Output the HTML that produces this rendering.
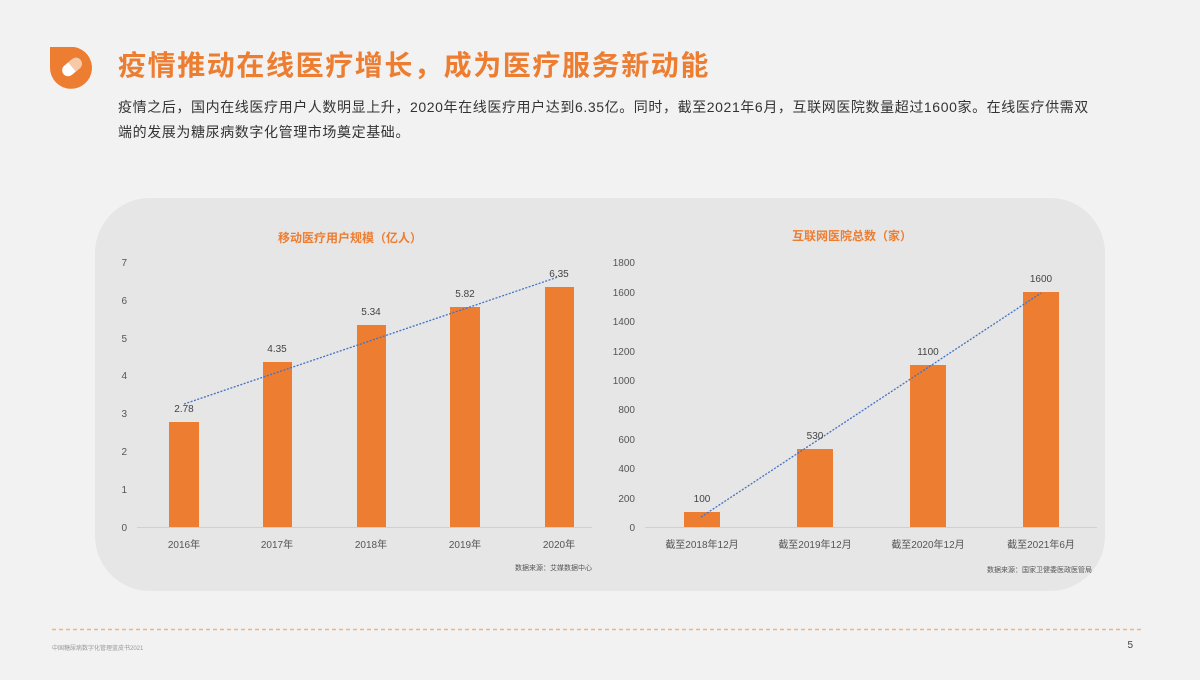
<!DOCTYPE html>
<html><head><meta charset="utf-8"><style>
body{margin:0;width:1200px;height:675px;background:#f2f2f2;overflow:hidden;font-family:"Liberation Sans","Noto Sans CJK SC",sans-serif;}
</style></head><body>
<svg width="1200" height="675" viewBox="0 0 1200 675" xmlns="http://www.w3.org/2000/svg" font-family="Liberation Sans, Noto Sans CJK SC, sans-serif">
<rect width="1200" height="675" fill="#f2f2f2"/>
<path d="M50 47 H74 A21 21 0 1 1 50 68 Z" fill="#ec7d31"/>
<g transform="translate(72,67) rotate(-40)"><rect x="-11" y="-6" width="22" height="12" rx="6" fill="#fff"/><path d="M5 -6 A6 6 0 0 1 5 6 H0 V-6 Z" fill="#f6c9a8"/></g>
<text x="118" y="75" font-size="28" font-weight="bold" fill="#ec7d31" letter-spacing="1.6">疫情推动在线医疗增长，成为医疗服务新动能</text>
<text x="118" y="112" font-size="14" fill="#333" letter-spacing="0.6">疫情之后，国内在线医疗用户人数明显上升，2020年在线医疗用户达到6.35亿。同时，截至2021年6月，互联网医院数量超过1600家。在线医疗供需双</text>
<text x="118" y="137" font-size="14" fill="#333" letter-spacing="0.6">端的发展为糖尿病数字化管理市场奠定基础。</text>
<rect x="95" y="198" width="1010" height="393" rx="55" fill="#e6e6e6"/>
<text x="350" y="242" font-size="12" font-weight="bold" fill="#ec7d31" text-anchor="middle">移动医疗用户规模（亿人）</text>
<g font-size="10" fill="#555" text-anchor="end">
<text x="127" y="531">0</text><text x="127" y="493">1</text><text x="127" y="455">2</text><text x="127" y="417">3</text><text x="127" y="379">4</text><text x="127" y="342">5</text><text x="127" y="304">6</text><text x="127" y="266">7</text></g>
<line x1="137" y1="527.5" x2="592" y2="527.5" stroke="#d0d0d0"/>
<g fill="#ec7d31">
<rect x="169" y="422" width="30" height="105"/><rect x="263" y="362" width="29" height="165"/><rect x="357" y="325" width="29" height="202"/><rect x="450" y="307" width="30" height="220"/><rect x="545" y="287" width="29" height="240"/></g>
<line x1="184" y1="404" x2="558" y2="277" stroke="#4472c4" stroke-width="1.3" stroke-dasharray="2,1.5"/>
<g font-size="10" fill="#444" text-anchor="middle">
<text x="184" y="412">2.78</text><text x="277" y="352">4.35</text><text x="371" y="315">5.34</text><text x="465" y="297">5.82</text><text x="559" y="277">6.35</text>
<text x="184" y="548" fill="#555">2016年</text><text x="277" y="548" fill="#555">2017年</text><text x="371" y="548" fill="#555">2018年</text><text x="465" y="548" fill="#555">2019年</text><text x="559" y="548" fill="#555">2020年</text></g>
<text x="592" y="570" font-size="7" fill="#555" text-anchor="end">数据来源：艾媒数据中心</text>
<text x="852" y="240" font-size="12" font-weight="bold" fill="#ec7d31" text-anchor="middle">互联网医院总数（家）</text>
<g font-size="10" fill="#555" text-anchor="end">
<text x="635" y="531">0</text><text x="635" y="502">200</text><text x="635" y="472">400</text><text x="635" y="443">600</text><text x="635" y="413">800</text><text x="635" y="384">1000</text><text x="635" y="355">1200</text><text x="635" y="325">1400</text><text x="635" y="296">1600</text><text x="635" y="266">1800</text></g>
<line x1="645" y1="527.5" x2="1097" y2="527.5" stroke="#d0d0d0"/>
<g fill="#ec7d31">
<rect x="684" y="512" width="36" height="15"/><rect x="797" y="449" width="36" height="78"/><rect x="910" y="365" width="36" height="162"/><rect x="1023" y="292" width="36" height="235"/></g>
<line x1="701" y1="517" x2="1041" y2="293" stroke="#4472c4" stroke-width="1.3" stroke-dasharray="2,1.5"/>
<g font-size="10" fill="#444" text-anchor="middle">
<text x="702" y="502">100</text><text x="815" y="439">530</text><text x="928" y="355">1100</text><text x="1041" y="282">1600</text></g>
<g font-size="10" fill="#555" text-anchor="middle">
<text x="702" y="548">截至2018年12月</text><text x="815" y="548">截至2019年12月</text><text x="928" y="548">截至2020年12月</text><text x="1041" y="548">截至2021年6月</text></g>
<text x="1092" y="572" font-size="7" fill="#555" text-anchor="end">数据来源：国家卫健委医政医管局</text>
<line x1="52" y1="629.5" x2="1143" y2="629.5" stroke="#f4b183" stroke-width="1.5" stroke-dasharray="4,3"/>
<text x="52" y="650" font-size="6" fill="#999">中国糖尿病数字化管理蓝皮书2021</text>
<text x="1133" y="648" font-size="10" fill="#444" text-anchor="end">5</text>
</svg>
</body></html>
